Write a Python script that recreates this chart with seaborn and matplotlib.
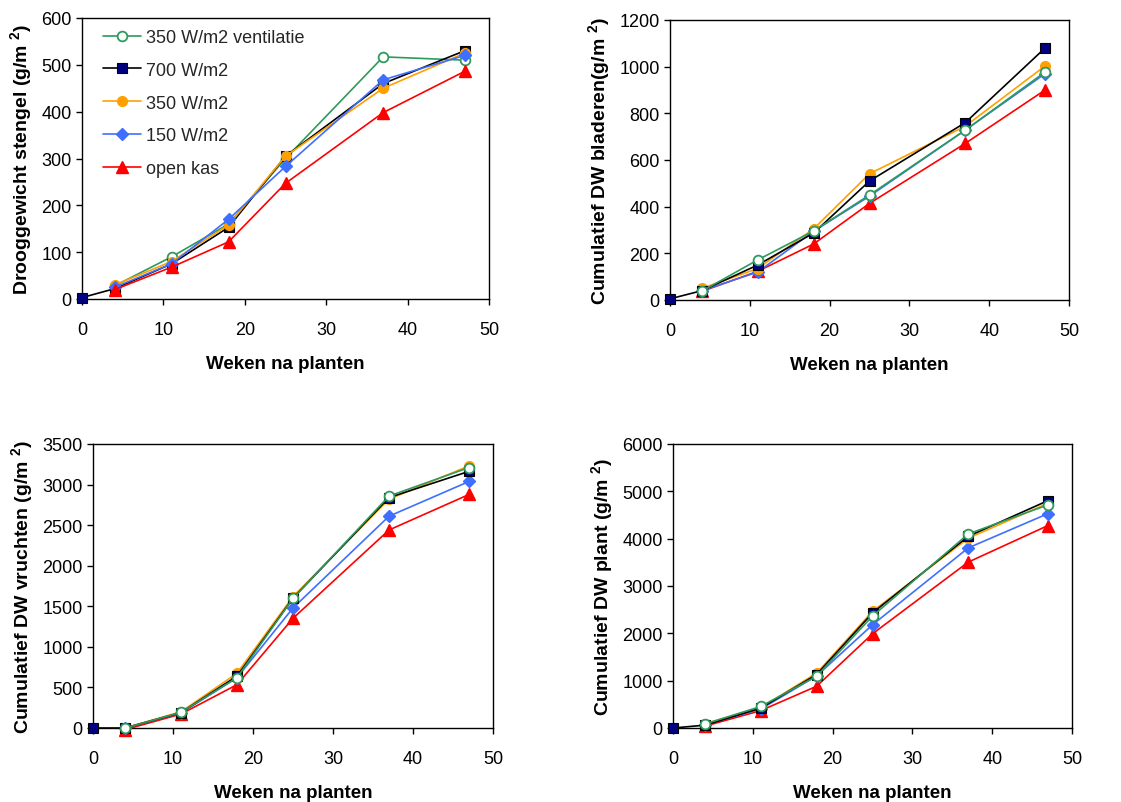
import numpy as np
import pandas as pd
import matplotlib
matplotlib.use("Agg")
import matplotlib.pyplot as plt
import seaborn as sns

sns.set_theme(style="ticks")
plt.rcParams["font.family"] = ["Liberation Sans", "DejaVu Sans"]
plt.rcParams["mathtext.fontset"] = "custom"
plt.rcParams["mathtext.default"] = "bf"
plt.rcParams["mathtext.bf"] = "Liberation Sans:bold"
plt.rcParams["mathtext.rm"] = "Liberation Sans"

# ---- data ----
weeks = [0, 4, 11, 18, 25, 37, 47]
series_names = ["350 W/m2 ventilatie", "700 W/m2", "350 W/m2", "150 W/m2", "open kas"]

# stem dry weight (g/m2); None = no measurement
stengel_vent = [None, 28, 90, 160, 300, 517, 510]
stengel_700 = [3, 22, 75, 153, 305, 460, 530]
stengel_350 = [None, 30, 80, 158, 305, 450, 525]
stengel_150 = [None, 25, 75, 170, 283, 468, 520]
stengel_open = [None, 20, 68, 122, 247, 398, 486]

bladeren_vent = [None, 38, 172, 296, 450, 728, 977]
bladeren_700 = [5, 40, 150, 287, 510, 760, 1080]
bladeren_350 = [None, 50, 135, 305, 541, 745, 1003]
bladeren_150 = [None, 40, 120, 295, 445, 728, 970]
bladeren_open = [None, 37, 123, 240, 414, 671, 900]

vruchten_vent = [None, 0, 193, 620, 1598, 2858, 3210]
vruchten_700 = [0, 0, 190, 640, 1600, 2840, 3163]
vruchten_350 = [None, 0, 200, 675, 1620, 2820, 3230]
vruchten_150 = [None, 0, 185, 620, 1479, 2610, 3038]
vruchten_open = [None, -20, 172, 534, 1352, 2440, 2878]

plant_vent = [None, 85, 455, 1095, 2365, 4100, 4715]
plant_700 = [0, 60, 420, 1130, 2430, 4050, 4805]
plant_350 = [None, 90, 430, 1160, 2465, 4010, 4750]
plant_150 = [None, 70, 400, 1100, 2180, 3805, 4530]
plant_open = [None, 40, 368, 882, 1990, 3505, 4278]

panel_data = [
    [stengel_vent, stengel_700, stengel_350, stengel_150, stengel_open],
    [bladeren_vent, bladeren_700, bladeren_350, bladeren_150, bladeren_open],
    [vruchten_vent, vruchten_700, vruchten_350, vruchten_150, vruchten_open],
    [plant_vent, plant_700, plant_350, plant_150, plant_open],
]
ymaxes = [600, 1200, 3500, 6000]
ysteps = [100, 200, 500, 1000]
ylabels = [r"Drooggewicht stengel (g/m $^{2}$)", r"Cumulatief DW bladeren(g/m $^{2}$)",
           r"Cumulatief DW vruchten (g/m $^{2}$)", r"Cumulatief DW plant (g/m $^{2}$)"]
xlabel = "Weken na planten"

styles = {
    "350 W/m2 ventilatie": dict(color="#2E9A5C", marker="o", mfc="white", mec="#2E9A5C", ms=7, mew=1.3),
    "700 W/m2": dict(color="black", marker="s", mfc="#000080", mec="black", ms=6.5, mew=0.8),
    "350 W/m2": dict(color="#FFA000", marker="o", mfc="#FFA000", mec="#FFA000", ms=7, mew=1),
    "150 W/m2": dict(color="#3F6FFF", marker="D", mfc="#3F6FFF", mec="#3F6FFF", ms=6, mew=1),
    "open kas": dict(color="#FF0000", marker="^", mfc="#FF0000", mec="#FF0000", ms=8, mew=1),
}

W, H = 1121, 803
fig = plt.figure(figsize=(W / 100, H / 100), dpi=100)
rects = [
    (82, 19, 489, 300),
    (670, 21, 1069, 301),
    (93, 445, 493, 729),
    (673, 445, 1072, 729),
]

for i, (data, rect) in enumerate(zip(panel_data, rects)):
    l, t, r, b = rect
    ax = fig.add_axes([l / W, 1 - b / H, (r - l) / W, (b - t) / H])
    ax.set_facecolor("white")
    order = [0, 1, 2, 3, 4] if i == 0 else [4, 3, 2, 1, 0]
    for k in order:
        name = series_names[k]
        vals = data[k]
        xs = [w for w, v in zip(weeks, vals) if v is not None]
        ys = [v for v in vals if v is not None]
        df = pd.DataFrame({"Weken": xs, "DW": ys})
        st = styles[name]
        sns.lineplot(data=df, x="Weken", y="DW", ax=ax, color=st["color"], lw=1.2,
                     marker=st["marker"], markerfacecolor=st["mfc"], markeredgecolor=st["mec"],
                     markersize=st["ms"], markeredgewidth=st["mew"], label=name,
                     legend=(i == 0), estimator=None, sort=False, zorder=3, clip_on=False)
    ax.set_xlim(0, 50)
    ax.set_ylim(0, ymaxes[i])
    ax.set_xticks(range(0, 51, 10))
    ax.set_yticks(np.arange(0, ymaxes[i] + 1, ysteps[i]))
    ax.tick_params(axis="both", direction="out", length=4.5, width=1, color="black",
                   labelsize=13, labelcolor="black")
    ax.tick_params(axis="x", pad=11.5)
    ax.tick_params(axis="y", pad=3)
    for sp in ax.spines.values():
        sp.set_visible(True)
        sp.set_color("black")
        sp.set_linewidth(1)
    ax.set_xlabel(xlabel, fontsize=13.5, fontweight="bold", labelpad=12, color="black")
    ax.set_ylabel(ylabels[i], fontsize=14, fontweight="bold", labelpad=5, color="black")
    if i == 0:
        handles, labels = ax.get_legend_handles_labels()
        hmap = dict(zip(labels, handles))
        ax.legend([hmap[n] for n in series_names], series_names, loc="upper left",
                  frameon=False, fontsize=13, handlelength=2.1, handletextpad=0.3,
                  labelspacing=0.88, borderaxespad=0.2, bbox_to_anchor=(0.025, 1.0))

fig.savefig("out.png", dpi=100, facecolor="white")
